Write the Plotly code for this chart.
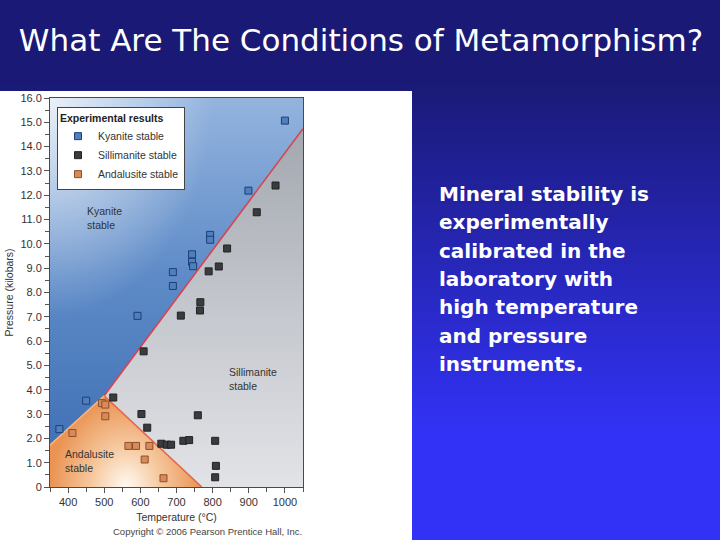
import plotly.graph_objects as go

# ---------------- data ----------------
kyanite_T = [376, 450, 592, 690, 690, 743, 743, 746, 793, 793, 899, 1000]
kyanite_P = [2.38, 3.55, 7.04, 8.84, 8.27, 9.57, 9.26, 9.08, 10.37, 10.17, 12.19, 15.07]

sillimanite_T = [525, 609, 603, 619, 658, 673, 685, 712, 719, 735, 759, 765, 766,
                 789, 807, 809, 807, 817, 840, 922, 974]
sillimanite_P = [3.68, 5.58, 3.00, 2.44, 1.78, 1.74, 1.74, 7.05, 1.90, 1.93, 2.95, 7.26, 7.60,
                 8.87, 1.90, 0.87, 0.40, 9.07, 9.81, 11.30, 12.40]

andalusite_T = [412, 494, 503, 503, 567, 588, 625, 612, 664]
andalusite_P = [2.22, 3.45, 3.39, 2.91, 1.69, 1.69, 1.69, 1.13, 0.36]

# phase boundaries (T in degC, P in kbar)
ky_and_T = [350, 500]
ky_and_P = [1.72, 3.75]
ky_sil_T = [500, 1050]
ky_sil_P = [3.75, 14.74]
and_sil_T = [500, 770]
and_sil_P = [3.75, 0.0]

x_range = [350, 1050]
y_range = [0, 16]

x_tickvals = [400, 500, 600, 700, 800, 900, 1000]
x_ticktext = ["400", "500", "600", "700", "800", "900", "1000"]
y_tickvals = list(range(0, 17))
y_ticktext = ["0"] + [f"{v}.0" for v in range(1, 17)]

body_lines = ["Mineral stability is", "experimentally", "calibrated in the",
              "laboratory with", "high temperature", "and pressure", "instruments."]

# ---------------- layout helpers ----------------
W, H = 720, 540
ML, MR, MT, MB = 50, 417, 98, 53
PW, PH = W - ML - MR, H - MT - MB


def px(xp):
    return (xp - ML) / PW


def py(yp):
    return (H - MB - yp) / PH


FONT = "Liberation Sans, Arial, sans-serif"
SLIDE_FONT = "DejaVu Sans, Arial, sans-serif"

fig = go.Figure()

# ---------------- region fills ----------------
xmin, xmax = x_range
ymin, ymax = y_range

# Kyanite field
fig.add_trace(go.Scatter(
    x=[ky_and_T[0]] + ky_and_T[1:] + ky_sil_T[1:] + [xmax, xmin],
    y=[ky_and_P[0]] + ky_and_P[1:] + ky_sil_P[1:] + [ymax, ymax],
    fill="toself", mode="lines", line=dict(width=0), showlegend=False, hoverinfo="skip",
    fillgradient=dict(type="vertical",
                      colorscale=[[0, "#4272b6"], [0.5, "#5f8cc8"], [1, "#94b4de"]]),
))
# light glow in the upper-left corner of kyanite field
fig.add_trace(go.Scatter(
    x=[xmin - 450, xmin + 450, xmin + 450, xmin - 450],
    y=[ymax - 9, ymax - 9, ymax + 9, ymax + 9],
    fill="toself", mode="lines", line=dict(width=0), showlegend=False, hoverinfo="skip",
    fillgradient=dict(type="radial",
                      colorscale=[[0, "rgba(255,255,255,0.8)"], [1, "rgba(255,255,255,0)"]]),
))
# Sillimanite field
fig.add_trace(go.Scatter(
    x=ky_sil_T + [xmax] + [and_sil_T[1]],
    y=ky_sil_P + [ymin] + [and_sil_P[1]],
    fill="toself", mode="lines", line=dict(width=0), showlegend=False, hoverinfo="skip",
    fillgradient=dict(type="vertical",
                      colorscale=[[0, "#e2e3e7"], [0.5, "#c4c7cd"], [1, "#a3a7af"]]),
))
# Andalusite field (extended below the axis so the glow is centred on the base)
h = ky_and_P[1]
fig.add_trace(go.Scatter(
    x=[xmin, xmin, ky_and_T[1], and_sil_T[1], and_sil_T[1]],
    y=[-h, ky_and_P[0], ky_and_P[1], and_sil_P[1], -h],
    fill="toself", mode="lines", line=dict(width=0), showlegend=False, hoverinfo="skip",
    fillgradient=dict(type="radial",
                      colorscale=[[0, "#fffaf2"], [0.45, "#f6c9a0"], [1, "#ea9352"]]),
))

# ---------------- boundaries ----------------
fig.add_trace(go.Scatter(x=ky_sil_T, y=ky_sil_P, mode="lines",
                         line=dict(color="#d8434f", width=1.6), showlegend=False, hoverinfo="skip"))
fig.add_trace(go.Scatter(x=and_sil_T, y=and_sil_P, mode="lines",
                         line=dict(color="#e4684f", width=1.6), showlegend=False, hoverinfo="skip"))
fig.add_trace(go.Scatter(x=ky_and_T, y=ky_and_P, mode="lines",
                         line=dict(color="#f5b47a", width=1.6), showlegend=False, hoverinfo="skip"))

# ---------------- experimental points ----------------
fig.add_trace(go.Scatter(x=kyanite_T, y=kyanite_P, mode="markers", name="Kyanite stable",
                         marker=dict(symbol="square", size=7, color="#4f7fbd",
                                     line=dict(color="#1f3f75", width=1))))
fig.add_trace(go.Scatter(x=sillimanite_T, y=sillimanite_P, mode="markers", name="Sillimanite stable",
                         marker=dict(symbol="square", size=7, color="#3a3b3e",
                                     line=dict(color="#222222", width=1))))
fig.add_trace(go.Scatter(x=andalusite_T, y=andalusite_P, mode="markers", name="Andalusite stable",
                         marker=dict(symbol="square", size=7, color="#d88b5a",
                                     line=dict(color="#8c4f2a", width=1))))

# ---------------- background shapes ----------------
shapes = []
top = (26, 26, 118)
bot = (50, 50, 246)
n = 90
for i in range(n):
    y0 = H * i / n
    y1 = H * (i + 1) / n
    t = min(max((y0 - 80) / (430 - 80), 0), 1)
    c = tuple(int(round(top[k] + (bot[k] - top[k]) * t)) for k in range(3))
    shapes.append(dict(type="rect", xref="paper", yref="paper", layer="below",
                       x0=px(0), x1=px(W), y0=py(y1 + 0.5), y1=py(y0),
                       fillcolor=f"rgb{c}", line=dict(width=0)))
# white panel behind the chart
shapes.append(dict(type="rect", xref="paper", yref="paper", layer="below",
                   x0=px(0), x1=px(412), y0=py(H), y1=py(91),
                   fillcolor="white", line=dict(width=0)))

annotations = [
    dict(text="Kyanite<br>stable", x=448, y=11.05, xref="x", yref="y", showarrow=False,
         xanchor="left", yanchor="middle", align="left",
         font=dict(family=FONT, size=10.5, color="#333333")),
    dict(text="Sillimanite<br>stable", x=840, y=4.45, xref="x", yref="y", showarrow=False,
         xanchor="left", yanchor="middle", align="left",
         font=dict(family=FONT, size=10.5, color="#333333")),
    dict(text="Andalusite<br>stable", x=385, y=1.05, xref="x", yref="y", showarrow=False,
         xanchor="left", yanchor="middle", align="left",
         font=dict(family=FONT, size=10.5, color="#333333")),
    dict(text="Copyright © 2006 Pearson Prentice Hall, Inc.", x=px(207), y=py(531),
         xref="paper", yref="paper", showarrow=False, xanchor="center", yanchor="middle",
         font=dict(family=FONT, size=9.5, color="#444444")),
]
for i, line in enumerate(body_lines):
    annotations.append(dict(
        text=line, x=px(437), y=py(194 + i * 28.3), xref="paper", yref="paper",
        showarrow=False, xanchor="left", yanchor="middle", align="left",
        font=dict(family=SLIDE_FONT, size=20, color="white", weight="bold")))

fig.update_layout(
    width=W, height=H,
    margin=dict(l=ML, r=MR, t=MT, b=MB, autoexpand=False),
    paper_bgcolor="#1a1a76",
    plot_bgcolor="rgba(0,0,0,0)",
    shapes=shapes,
    annotations=annotations,
    title=dict(text="What Are The Conditions of Metamorphism?", xref="container", x=361 / W,
               xanchor="center", yref="container", y=1 - 40 / H, yanchor="middle",
               font=dict(family=SLIDE_FONT, size=31, color="white")),
    showlegend=True,
    legend=dict(x=px(57), y=py(107), xanchor="left", yanchor="top",
                bgcolor="white", bordercolor="#444444", borderwidth=1,
                font=dict(family=FONT, size=10.5, color="#333333"),
                title=dict(text="<b>Experimental results</b>",
                           font=dict(family=FONT, size=10.5, color="#222222")),
                itemwidth=30, tracegroupgap=0),
    xaxis=dict(range=x_range, tickvals=x_tickvals, ticktext=x_ticktext,
               showgrid=False, zeroline=False, showline=True, mirror=True,
               linecolor="#4a4a4a", linewidth=1, ticks="outside", ticklen=5,
               tickcolor="#555555",
               minor=dict(dtick=50, ticks="outside", ticklen=4, tickcolor="#555555"),
               tickfont=dict(family=FONT, size=11, color="#333333"),
               title=dict(text="Temperature (°C)", standoff=6,
                          font=dict(family=FONT, size=10.5, color="#333333"))),
    yaxis=dict(range=y_range, tickvals=y_tickvals, ticktext=y_ticktext,
               showgrid=False, zeroline=False, showline=True, mirror=True,
               linecolor="#4a4a4a", linewidth=1, ticks="outside", ticklen=5,
               tickcolor="#555555",
               minor=dict(dtick=0.5, ticks="outside", ticklen=4, tickcolor="#555555"),
               tickfont=dict(family=FONT, size=11, color="#333333"),
               title=dict(text="Pressure (kilobars)", standoff=4,
                          font=dict(family=FONT, size=10.5, color="#333333"))),
)

fig.write_html(
    "out.html",
    config=dict(displayModeBar=False),
    post_script="document.body.style.margin='0';document.body.style.background='#1a1a76';",
)
